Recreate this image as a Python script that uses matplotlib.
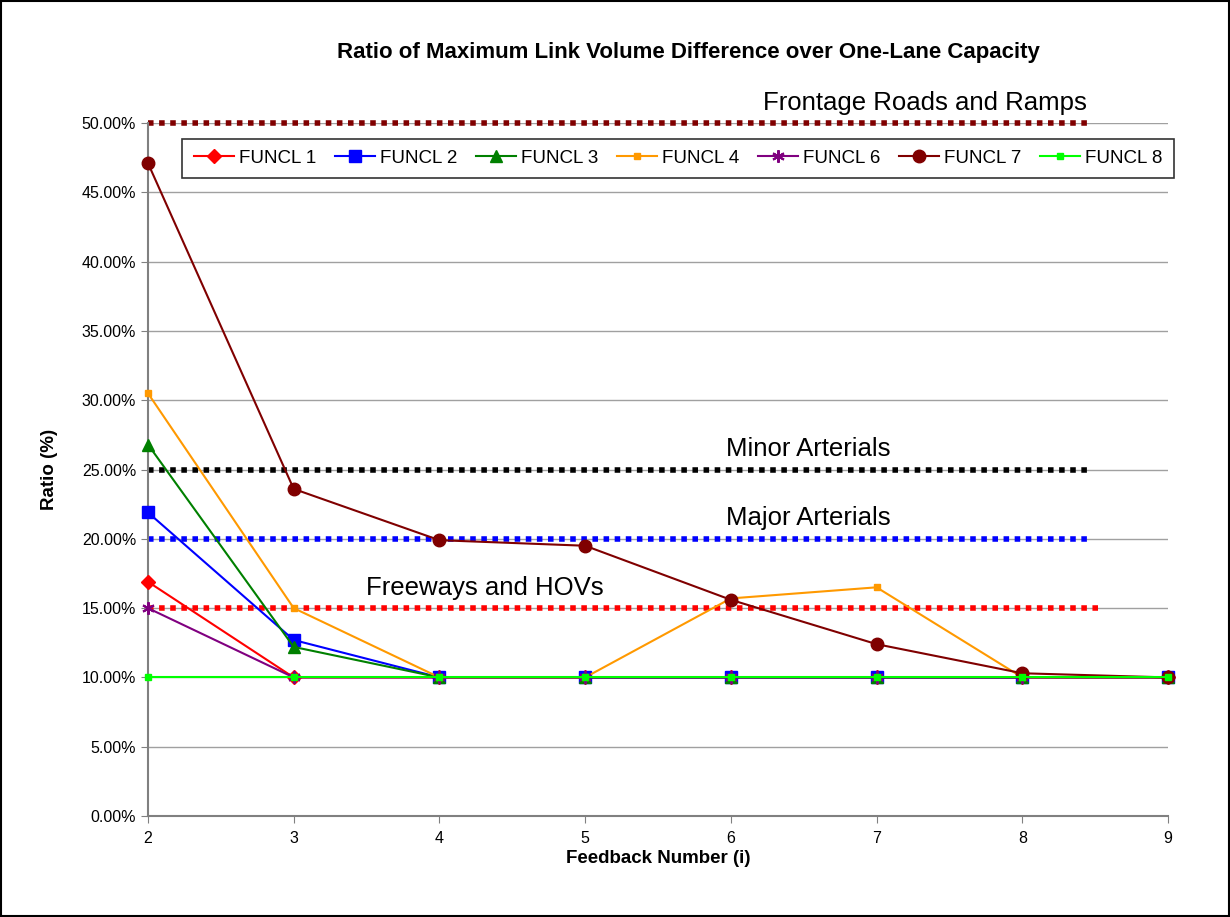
import numpy as np
import matplotlib.pyplot as plt
from matplotlib.patches import Rectangle
from matplotlib.ticker import FuncFormatter

plt.rcParams['font.family'] = ['Liberation Sans', 'DejaVu Sans']

# feedback number and ratio (%) per functional class
feedback = [2, 3, 4, 5, 6, 7, 8, 9]
funcl_1 = [16.9, 10.0, 10.0, 10.0, 10.0, 10.0, 10.0, 10.0]
funcl_2 = [21.9, 12.7, 10.0, 10.0, 10.0, 10.0, 10.0, 10.0]
funcl_3 = [26.8, 12.2, 10.0, 10.0, 10.0, 10.0, 10.0, 10.0]
funcl_4 = [30.5, 15.0, 10.0, 10.0, 15.7, 16.5, 10.0, 10.0]
funcl_6 = [15.0, 10.0, 10.0, 10.0, 10.0, 10.0, 10.0, 10.0]
funcl_7 = [47.1, 23.6, 19.9, 19.5, 15.6, 12.4, 10.3, 10.0]
funcl_8 = [10.0, 10.0, 10.0, 10.0, 10.0, 10.0, 10.0, 10.0]

# threshold lines: label, value, x-extent end
thr_labels = ['Frontage Roads and Ramps', 'Minor Arterials', 'Major Arterials', 'Freeways and HOVs']
thr_values = [50.0, 25.0, 20.0, 15.0]
thr_end = [8.47, 8.47, 8.47, 8.53]
thr_text_x = [7.33, 6.53, 6.53, 4.31]

fig = plt.figure(figsize=(12.3, 9.17), dpi=100)
ax = fig.add_axes([0.1203, 0.1101, 0.8293, 0.7558])

# horizontal grid
ax.set_ylim(0, 50)
ax.set_xlim(2, 9)
ax.set_yticks(np.arange(0, 50.1, 5))
ax.set_xticks(feedback)
ax.yaxis.grid(True, color='#a0a0a0', lw=1)
ax.set_axisbelow(True)

thr_colors = ['#800000', '#000000', '#0000ff', '#ff0000']
for lab, v, xe, tx, c in zip(thr_labels, thr_values, thr_end, thr_text_x, thr_colors):
    ax.plot([2, xe], [v, v], color=c, lw=4, linestyle=(0, (1, 1)), dash_capstyle='butt',
            zorder=2, clip_on=False)
    ax.text(tx, v + 0.6, lab, ha='center', va='bottom', fontsize=18.5)

kw = dict(lw=1.5, zorder=3, clip_on=False)
ax.plot(feedback, funcl_1, color='#ff0000', marker='D', ms=7, label='FUNCL 1', **kw)
ax.plot(feedback, funcl_2, color='#0000ff', marker='s', ms=8, label='FUNCL 2', **kw)
ax.plot(feedback, funcl_3, color='#008000', marker='^', ms=8, label='FUNCL 3', **kw)
ax.plot(feedback, funcl_4, color='#ff9900', marker='s', ms=4, label='FUNCL 4', **kw)
ax.plot(feedback, funcl_6, color='#800080', marker=(6, 2, 0), ms=9, mew=1.5, label='FUNCL 6', **kw)
ax.plot(feedback, funcl_7, color='#800000', marker='o', ms=9, label='FUNCL 7', **kw)
ax.plot(feedback, funcl_8, color='#00ff00', marker='s', ms=4, label='FUNCL 8', **kw)

ax.yaxis.set_major_formatter(FuncFormatter(lambda v, p: '%.2f%%' % v))
ax.tick_params(axis='both', labelsize=11.5, color='#808080', length=5)
ax.tick_params(axis='x', pad=6)
for s in ['top', 'right']:
    ax.spines[s].set_visible(False)
for s in ['left', 'bottom']:
    ax.spines[s].set_color('#808080')
    ax.spines[s].set_linewidth(1.5)

ax.set_xlabel('Feedback Number (i)', fontsize=13.5, fontweight='bold', labelpad=3)
ax.set_ylabel('Ratio (%)', fontsize=13.5, fontweight='bold', labelpad=17)
fig.text(0.5593, 0.943, 'Ratio of Maximum Link Volume Difference over One-Lane Capacity',
         ha='center', va='center', fontsize=16, fontweight='bold')

leg = ax.legend(loc='center', bbox_to_anchor=(0.5512, 0.8272), bbox_transform=fig.transFigure,
                ncol=7, fontsize=13.5, frameon=True, fancybox=False, handlelength=2.15,
                columnspacing=1.0, handletextpad=0.25, borderpad=0.6)
leg.get_frame().set_edgecolor('black')
leg.get_frame().set_linewidth(1.2)

fig.patches.append(Rectangle((0.001, 0.001), 0.998, 0.998, transform=fig.transFigure,
                             fill=False, edgecolor='black', lw=1.5))

fig.savefig('out.png', dpi=100)
